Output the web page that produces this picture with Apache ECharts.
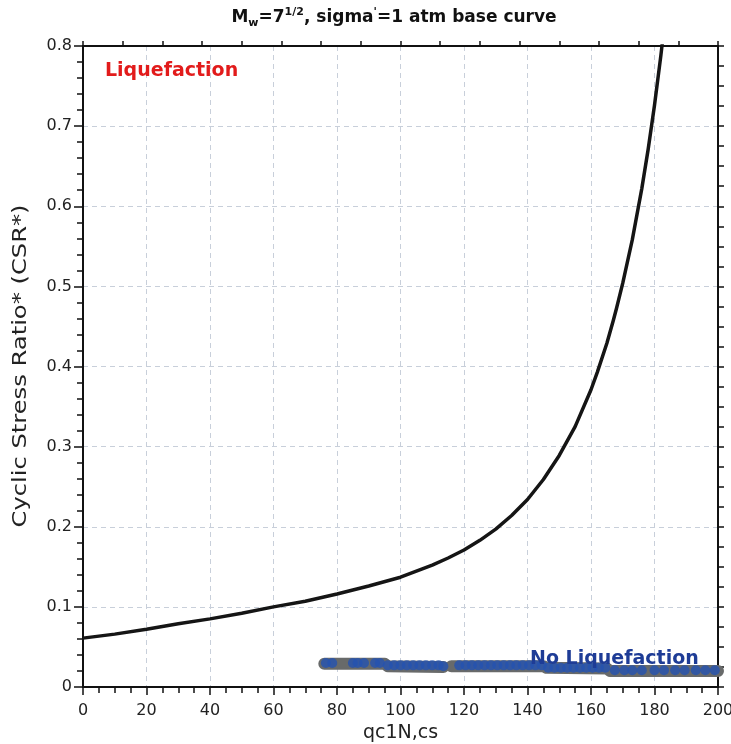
<!DOCTYPE html>
<html>
<head>
<meta charset="utf-8">
<script src="https://cdn.jsdelivr.net/npm/echarts@6/dist/echarts.min.js"></script>
<style>
html,body{margin:0;padding:0;background:#fff;}
#c{width:731px;height:744px;}
</style>
</head>
<body>
<div id="c"></div>
<script>
// ---- data ----
var qcCurve  = [0, 10, 20, 30, 40, 50, 60, 70, 80, 90, 100, 110, 115, 120, 125, 130, 135, 140, 145, 150, 155, 160, 162, 165, 167, 168, 170, 173, 176, 178, 180, 182, 183];
var csrCurve = [0.061, 0.066, 0.072, 0.079, 0.085, 0.092, 0.100, 0.107, 0.116, 0.126, 0.137, 0.152, 0.161, 0.171, 0.183, 0.197, 0.214, 0.234, 0.259, 0.289, 0.325, 0.371, 0.393, 0.429, 0.457, 0.472, 0.504, 0.558, 0.622, 0.671, 0.726, 0.788, 0.822];

var qcPts  = [76.5, 78.5, 85, 86.5, 88.5, 92, 93.5, 96, 98, 100, 102, 104, 106, 108, 110, 112, 113.5,
              118.5, 120.5, 122.5, 124.5, 126.5, 128.5, 130.5, 132.5, 134.5, 136.5, 138.5, 140.5, 142.5, 144.5,
              146.5, 148.5, 150.5, 152.5, 154.5, 156.5, 158.5, 160.5, 162.5, 164.5,
              167.5, 170.5, 173, 176, 180, 183, 186.5, 189.5, 193, 196, 199];
var csrPts = [0.030, 0.030, 0.030, 0.030, 0.030, 0.030, 0.030, 0.027, 0.027, 0.027, 0.027, 0.027, 0.027, 0.027, 0.027, 0.027, 0.026,
              0.027, 0.027, 0.027, 0.027, 0.027, 0.027, 0.027, 0.027, 0.027, 0.027, 0.027, 0.027, 0.027, 0.027,
              0.024, 0.024, 0.024, 0.024, 0.024, 0.024, 0.024, 0.024, 0.024, 0.024,
              0.021, 0.021, 0.021, 0.021, 0.021, 0.021, 0.021, 0.021, 0.021, 0.021, 0.021];

var qcBandA  = [76, 95, 96, 113.5];
var csrBandA = [0.029, 0.029, 0.026, 0.025];
var qcBandB  = [116, 145, 146, 165, 166, 200];
var csrBandB = [0.026, 0.026, 0.024, 0.023, 0.020, 0.020];

var xTicks = [0, 20, 40, 60, 80, 100, 120, 140, 160, 180, 200];
var yTicks = [0, 0.1, 0.2, 0.3, 0.4, 0.5, 0.6, 0.7, 0.8];

function pairs(xs, ys) { return xs.map(function (x, i) { return [x, ys[i]]; }); }

var chart = echarts.init(document.getElementById('c'), null, {renderer: 'canvas'});
var FONT = 'DejaVu Sans';
var grid = {left: 83, right: 13, top: 46, bottom: 57, containLabel: false, outerBoundsMode: 'none'};

var option = {
  animation: false,
  backgroundColor: '#ffffff',
  grid: grid,
  xAxis: [{
    type: 'value', position: 'bottom', min: 0, max: 200, interval: 20,
    name: 'qc1N,cs', nameLocation: 'middle', nameGap: 37,
    nameTextStyle: {fontFamily: FONT, fontSize: 19, color: '#222'},
    axisLine: {show: true, onZero: false, lineStyle: {color: '#111', width: 2}},
    axisTick: {show: true, inside: false, length: 8, lineStyle: {color: '#111', width: 1.5}},
    minorTick: {show: true, splitNumber: 4, length: 6, lineStyle: {color: '#111', width: 1.5}},
    axisLabel: {fontFamily: FONT, fontSize: 16, color: '#222', margin: 16,
      formatter: function (v) { return xTicks.indexOf(v) >= 0 ? String(v) : ''; }},
    splitLine: {show: true, lineStyle: {color: '#c8cfda', type: [5, 4], width: 1}}
  }, {
    type: 'value', position: 'top', min: 0, max: 200, interval: 12.5,
    axisLine: {show: true, onZero: false, lineStyle: {color: '#111', width: 2}},
    axisTick: {show: true, inside: false, length: 5, lineStyle: {color: '#111', width: 1.5}},
    axisLabel: {show: false},
    splitLine: {show: false}
  }],
  yAxis: [{
    type: 'value', position: 'left', min: 0, max: 0.8, interval: 0.1,
    axisLine: {show: true, onZero: false, lineStyle: {color: '#111', width: 2}},
    axisTick: {show: true, inside: false, length: 9, lineStyle: {color: '#111', width: 1.5}},
    minorTick: {show: true, splitNumber: 5, length: 6, lineStyle: {color: '#111', width: 1.5}},
    axisLabel: {fontFamily: FONT, fontSize: 16, color: '#222', margin: 11,
      formatter: function (v) {
        var r = Math.round(v * 10) / 10;
        return yTicks.indexOf(r) >= 0 ? (r === 0 ? '0' : r.toFixed(1)) : '';
      }},
    splitLine: {show: true, lineStyle: {color: '#c8cfda', type: [5, 4], width: 1}}
  }, {
    type: 'value', position: 'right', min: 0, max: 0.8, interval: 0.025,
    axisLine: {show: true, onZero: false, lineStyle: {color: '#111', width: 2}},
    axisTick: {show: true, inside: false, length: 6, lineStyle: {color: '#111', width: 1.5}},
    axisLabel: {show: false},
    splitLine: {show: false}
  }],
  series: [{
    type: 'line', xAxisIndex: 0, yAxisIndex: 0,
    data: pairs(qcBandA, csrBandA), symbol: 'none', silent: true,
    lineStyle: {color: '#686a6a', width: 12, cap: 'round', join: 'round'}, z: 2
  }, {
    type: 'line', xAxisIndex: 0, yAxisIndex: 0,
    data: pairs(qcBandB, csrBandB), symbol: 'none', silent: true,
    lineStyle: {color: '#686a6a', width: 12, cap: 'round', join: 'round'}, z: 2
  }, {
    type: 'scatter', xAxisIndex: 0, yAxisIndex: 0,
    data: pairs(qcPts, csrPts), symbol: 'circle', symbolSize: 10,
    itemStyle: {color: '#2453b0', borderWidth: 0}, z: 3
  }, {
    type: 'line', xAxisIndex: 0, yAxisIndex: 0,
    data: pairs(qcCurve, csrCurve), symbol: 'none', smooth: false, clip: true,
    lineStyle: {color: '#151515', width: 3.5, join: 'round'}, z: 4
  }],
  graphic: [{
    type: 'text', x: 394, y: 18, z: 10,
    style: {
      text: '{b|M}{sub|w}{b|=7}{sup|1/2}{b|, sigma}{sup|\'}{b|=1 atm base curve}',
      align: 'center', verticalAlign: 'middle',
      rich: {
        b: {fontFamily: FONT, fontWeight: 'bold', fontSize: 17, lineHeight: 22, fill: '#111', color: '#111'},
        sup: {fontFamily: FONT, fontWeight: 'bold', fontSize: 11, lineHeight: 12, verticalAlign: 'top', fill: '#111', color: '#111'},
        sub: {fontFamily: FONT, fontWeight: 'bold', fontSize: 11, lineHeight: 12, verticalAlign: 'bottom', fill: '#111', color: '#111'}
      }
    }
  }, {
    type: 'text', x: 21, y: 366, rotation: Math.PI / 2, scaleX: 1.21, scaleY: 1, z: 10,
    style: {text: 'Cyclic Stress Ratio* (CSR*)', fontFamily: FONT, fontSize: 20, fill: '#222',
      align: 'center', verticalAlign: 'middle'}
  }, {
    type: 'text', x: 105, y: 71, z: 10,
    style: {text: 'Liquefaction', fontFamily: FONT, fontWeight: 'bold', fontSize: 19, fill: '#e21b1b',
      align: 'left', verticalAlign: 'middle'}
  }, {
    type: 'text', x: 530, y: 659, z: 10,
    style: {text: 'No Liquefaction', fontFamily: FONT, fontWeight: 'bold', fontSize: 19, fill: '#1e3c96',
      align: 'left', verticalAlign: 'middle'}
  }]
};
chart.setOption(option);
</script>
</body>
</html>
